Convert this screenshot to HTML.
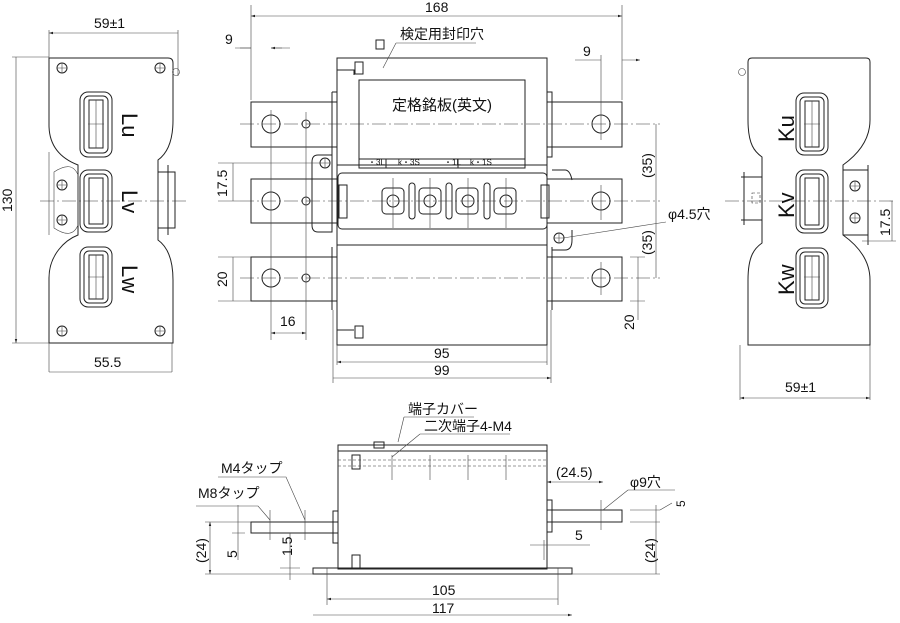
<!DOCTYPE html>
<html><head><meta charset="utf-8"><style>
html,body{margin:0;padding:0;background:#fff;}
svg{display:block}
text{font-family:"Liberation Sans","Noto Sans CJK JP",sans-serif;font-size:14px;fill:#111}
.l{stroke:#222;stroke-width:1;fill:none}
.t{stroke:#444;stroke-width:0.6;fill:none}
.c{stroke:#333;stroke-width:0.6;fill:none;stroke-dasharray:14 3 2 3}
.d{stroke:#333;stroke-width:0.6;fill:none;stroke-dasharray:3 2}
</style></head><body>
<svg width="900" height="623" viewBox="0 0 900 623" xmlns="http://www.w3.org/2000/svg">
<defs>
<marker id="a" viewBox="0 0 10 10" refX="10" refY="5" markerWidth="7" markerHeight="7" orient="auto-start-reverse"><path d="M0,2L10,5L0,8z" fill="#222"/></marker>
<g id="ch"><circle r="5" class="l"/><path d="M-5,0H5M0,-5V5" class="t"/></g>
</defs>

<!-- LEFT VIEW -->
<path class="l" d="M49,58 H168 Q173,58 173,63 V120 C173,145 165,155 158,160 V240 C165,245 173,255 173,280 V343 H49 V278 C49,255 65,240 78,235 V165 C65,160 49,150 49,125 Z"/>
<path class="t" d="M54,172 Q72,160 78,175 V225 Q72,240 54,228 Z M49,152 V235"/>
<use href="#ch" x="62" y="185"/><use href="#ch" x="62" y="220"/>
<use href="#ch" x="62" y="68"/><use href="#ch" x="160" y="68"/><use href="#ch" x="62" y="331"/><use href="#ch" x="160" y="331"/>
<circle cx="176" cy="72" r="3.5" class="t"/>
<path class="l" d="M158,172 H175 V228 H158 M168,165 V235"/>
<g class="l">
<rect x="80" y="92" width="32" height="65" rx="8"/><rect x="84" y="96" width="24" height="57" rx="5"/><rect x="89" y="100" width="14" height="48"/>
<rect x="80" y="170" width="32" height="62" rx="8"/><rect x="84" y="174" width="24" height="54" rx="5"/><rect x="89" y="178" width="14" height="46"/>
<rect x="80" y="247" width="32" height="60" rx="8"/><rect x="84" y="251" width="24" height="52" rx="5"/><rect x="89" y="255" width="14" height="44"/>
</g>
<path class="t" d="M96,100V148M88,124H104M96,255V299M88,277H104"/>
<path class="c" d="M40,201H188"/>
<text transform="translate(122,113) rotate(90)" style="font-size:22px">Lu</text>
<text transform="translate(122,190) rotate(90)" style="font-size:22px">Lv</text>
<text transform="translate(122,265) rotate(90)" style="font-size:22px">Lw</text>
<path class="t" d="M49,30V58M178,30V76M49,372V343M172,372V343M12,57H49M12,343H49"/>
<path class="t" d="M49,33H178M49,372H172M16,57V343" marker-start="url(#a)" marker-end="url(#a)"/>
<text x="94" y="28">59±1</text><text x="94" y="367">55.5</text>
<text transform="translate(12,212) rotate(-90)">130</text>

<!-- FRONT VIEW -->
<g class="l">
<rect x="251" y="102" width="86" height="45"/><rect x="251" y="179" width="86" height="44"/><rect x="251" y="257" width="86" height="44"/>
<rect x="547" y="102" width="75" height="45"/><rect x="547" y="179" width="75" height="44"/><rect x="547" y="257" width="75" height="44"/>
<path d="M337,58H547V345H337Z"/>
<path d="M332,92H337M332,92V157M547,92H552V157H547M332,247V310M552,247V310"/>
<path d="M337,70H354V75M337,330H354"/>
<rect x="355" y="62" width="8" height="12"/><rect x="355" y="326" width="8" height="12"/>
<rect x="359" y="80" width="166" height="88"/>
<path d="M359,159H525M386,159V168M458,159V168"/>
<rect x="338" y="173" width="209" height="56" rx="4"/>
<path d="M337,245H547M337,165H547"/>
<path d="M318,155H332V232H318Q312,232 312,225V162Q312,155 318,155Z"/>
<path d="M552,170H565Q570,170 572,180M552,250H565Q572,250 572,240V230"/>
<rect x="339" y="185" width="8" height="33"/><rect x="541" y="185" width="8" height="33"/>
<rect x="376" y="40" width="8" height="9"/>
</g>
<g class="l">
<rect x="382" y="188" width="22" height="26" rx="4"/><rect x="419" y="188" width="22" height="26" rx="4"/><rect x="456" y="188" width="22" height="26" rx="4"/><rect x="494" y="188" width="22" height="26" rx="4"/>
<rect x="409" y="183" width="6" height="36" rx="3"/><rect x="446" y="183" width="6" height="36" rx="3"/><rect x="484" y="183" width="6" height="36" rx="3"/>
<circle cx="393" cy="201" r="6"/><circle cx="430" cy="201" r="6"/><circle cx="468" cy="201" r="6"/><circle cx="506" cy="201" r="6"/>
<circle cx="271" cy="124" r="9"/><circle cx="306" cy="124" r="4"/><circle cx="601" cy="124" r="9"/>
<circle cx="271" cy="201" r="9"/><circle cx="306" cy="201" r="4"/><circle cx="601" cy="201" r="9"/>
<circle cx="271" cy="278" r="9"/><circle cx="306" cy="278" r="4"/><circle cx="601" cy="278" r="9"/>
</g>
<use href="#ch" x="325" y="163"/><use href="#ch" x="559" y="238"/>
<path class="t" d="M393,178V228M430,178V228M468,178V228M506,178V228M271,110V340M306,112V340M601,55V140M601,185V220M601,262V295"/>
<path class="c" d="M240,124H660M240,201H660M240,278H660"/>
<text x="368" y="165" style="font-size:8px">・3L</text><text x="398" y="165" style="font-size:8px">k・3S</text><text x="444" y="165" style="font-size:8px">・1L</text><text x="470" y="165" style="font-size:8px">k・1S</text>
<text x="392" y="110" style="font-size:15px">定格銘板(英文)</text>
<text x="400" y="39">検定用封印穴</text><path class="t" d="M396,43H476M396,43L383,68"/>
<path class="t" d="M251,100V5M622,100V5M251,50V100"/>
<path class="t" d="M251,16H622" marker-start="url(#a)" marker-end="url(#a)"/>
<text x="425" y="12">168</text>
<text x="225" y="44">9</text><path class="t" d="M235,48H251M271,48H290"/><path class="t" d="M240,48H251M282,48H271" marker-end="url(#a)"/>
<text x="583" y="56">9</text><path class="t" d="M575,60H601M622,60H640" marker-end="url(#a)"/>
<path class="t" d="M218,163H320M218,201H240M218,257H251M218,301H251"/>
<path class="t" d="M233,163V201M233,257V301"/>
<text transform="translate(227,197) rotate(-90)">17.5</text>
<text transform="translate(227,287) rotate(-90)">20</text>
<path class="t" d="M271,333H306" marker-start="url(#a)" marker-end="url(#a)"/><text x="280" y="326">16</text>
<path class="t" d="M337,345V365M547,345V365M333,310V383M551,310V383"/>
<path class="t" d="M337,362H547M333,378H551" marker-start="url(#a)" marker-end="url(#a)"/>
<text x="434" y="358">95</text><text x="434" y="375">99</text>
<path class="t" d="M656,124V278M630,257H645M630,301H645M638,257V320"/>
<text transform="translate(652,178) rotate(-90)">(35)</text><text transform="translate(652,255) rotate(-90)">(35)</text>
<text transform="translate(634,330) rotate(-90)">20</text>
<text x="668" y="219">φ4.5穴</text><path class="t" d="M666,222L563,238"/>

<!-- RIGHT VIEW -->
<path class="l" d="M752,58H866Q870,58 870,62V120C870,145 850,160 843,165V235C850,240 870,255 870,280V345H748V280C748,255 755,248 762,243V157C755,152 748,145 748,120V62Q748,58 752,58Z"/>
<path class="l" d="M843,170H868V235H843M868,165V245"/>
<use href="#ch" x="855" y="186"/><use href="#ch" x="855" y="218"/>
<circle cx="742" cy="72" r="3.5" class="t"/>
<path class="l" d="M741,177H762V220H741M744,172V225"/>
<rect x="752" y="193" width="8" height="10" class="d"/>
<g class="l">
<rect x="796" y="93" width="32" height="62" rx="8"/><rect x="800" y="97" width="24" height="54" rx="5"/><rect x="805" y="101" width="14" height="46"/>
<rect x="796" y="170" width="32" height="63" rx="8"/><rect x="800" y="174" width="24" height="55" rx="5"/><rect x="805" y="178" width="14" height="47"/>
<rect x="796" y="248" width="32" height="60" rx="8"/><rect x="800" y="252" width="24" height="52" rx="5"/><rect x="805" y="256" width="14" height="44"/>
</g>
<path class="t" d="M812,101V147M804,124H820M812,256V300M804,277H820"/>
<path class="c" d="M725,201H895"/>
<text transform="translate(794,142) rotate(-90)" style="font-size:22px">Ku</text>
<text transform="translate(794,218) rotate(-90)" style="font-size:22px">Kv</text>
<text transform="translate(794,295) rotate(-90)" style="font-size:22px">Kw</text>
<path class="t" d="M862,241H896M892,201V241"/>
<text transform="translate(890,236) rotate(-90)">17.5</text>
<path class="t" d="M740,345V400M870,345V400"/>
<path class="t" d="M740,398H870" marker-start="url(#a)" marker-end="url(#a)"/>
<text x="785" y="392">59±1</text>

<!-- BOTTOM VIEW -->
<g class="l">
<rect x="338" y="445" width="209" height="124"/>
<rect x="313" y="568" width="259" height="6"/>
<rect x="251" y="522" width="87" height="11"/>
<rect x="547" y="510" width="75" height="12"/>
<rect x="333" y="511" width="5" height="32"/><rect x="547" y="500" width="5" height="32"/>
<rect x="374" y="442" width="10" height="6"/>
<path d="M338,451H547"/>
<rect x="352" y="455" width="8" height="14"/><rect x="352" y="555" width="8" height="14"/>
</g>
<path class="d" d="M338,466H547M338,460H547"/>
<path class="t" d="M392,455V480M430,455V480M468,455V480M506,455V480M270,510V540M305,510V540M601,500V530M327,568V605M558,568V605M544,540V560"/>
<text x="408" y="414">端子カバー</text><path class="t" d="M404,417H474M404,417L398,442"/>
<text x="424" y="431">二次端子4-M4</text><path class="t" d="M420,434H510M420,434L392,457"/>
<text x="221" y="473">M4タップ</text><path class="t" d="M218,477H286L305,520"/>
<text x="198" y="498">M8タップ</text><path class="t" d="M196,506H258L270,520"/>
<path class="t" d="M205,522H251M205,574H313M290,533V580M280,568H300M238,505V560M232,522H245M232,533H245"/>
<path class="t" d="M210,522V574" marker-start="url(#a)" marker-end="url(#a)"/>
<text transform="translate(206,563) rotate(-90)">(24)</text>
<text transform="translate(237,558) rotate(-90)">5</text>
<text transform="translate(292,556) rotate(-90)">1.5</text>
<path class="t" d="M547,482H603" marker-start="url(#a)" marker-end="url(#a)"/><text x="556" y="477">(24.5)</text>
<text x="630" y="487">φ9穴</text><path class="t" d="M628,490H675M628,490L603,510"/>
<path class="t" d="M630,510H660M630,522H660M656,505V574M572,574H660M660,510L672,503"/>
<text transform="translate(685,507) rotate(-90)" style="font-size:12px">5</text>
<text transform="translate(655,563) rotate(-90)">(24)</text>
<path class="t" d="M530,545H590"/><text x="575" y="540">5</text>
<path class="t" d="M327,599H558M313,615H572" marker-start="url(#a)" marker-end="url(#a)"/>
<text x="432" y="595">105</text><text x="432" y="613">117</text>
</svg>
</body></html>
